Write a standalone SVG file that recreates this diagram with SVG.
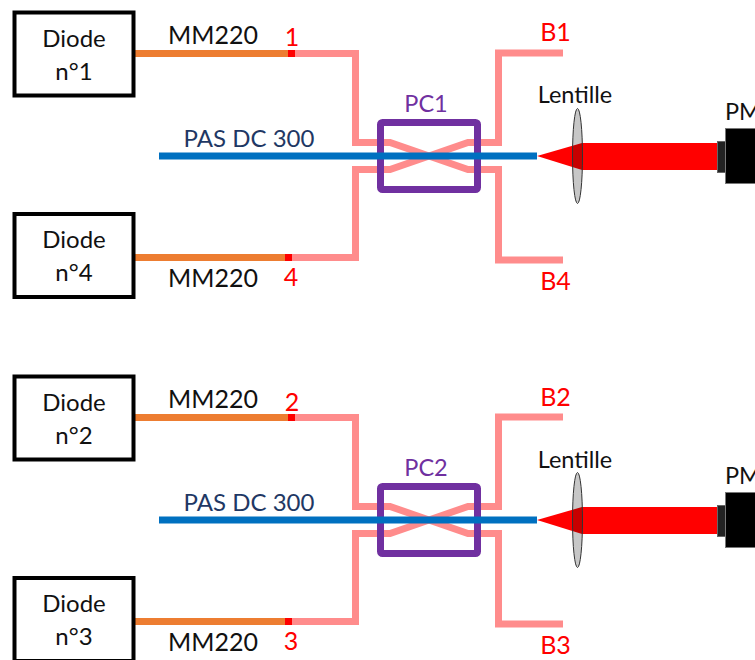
<svg xmlns="http://www.w3.org/2000/svg" width="755" height="660" viewBox="0 0 755 660">
<style>
text{font-family:"Lato","Carlito","Liberation Sans",sans-serif;font-size:23.500px;text-anchor:middle;fill:#111}
.box{fill:#fff;stroke:#000;stroke-width:4}
.or{fill:none;stroke:#ED7D31;stroke-width:7}
.rd{fill:none;stroke:#F00;stroke-width:7}
.pk{fill:none;stroke:#FF8C8C;stroke-width:7}
.bl{fill:none;stroke:#0070C0;stroke-width:7}
.pc{fill:none;stroke:#7030A0;stroke-width:7;stroke-linejoin:round}
text.mm{font-size:25px}
text.dio{font-size:24px}
text.num{fill:#F00;font-size:25px}
text.pct{fill:#7030A0}
text.pas{fill:#1F3864;font-size:24px}
text.pm{text-anchor:start}
</style>
<defs>
<g id="fibres">
<path class="pk" d="M292 53.500H355.500V142.500H390L468 169.500H498.500V260H563"/>
<path class="pk" d="M292 257.500H355.500V169.500H390L468 142.500H498.500V53H563"/>
<path class="or" d="M134 53.500H288"/>
<path class="or" d="M134 257.500H285"/>
<path class="rd" d="M288 53.500H295"/>
<path class="rd" d="M285 257.500H292"/>
</g>
<g id="coupler">
<rect class="pc" x="380.500" y="122.500" width="97" height="67" rx="2"/>
<path class="bl" d="M159 156H537"/>
</g>
<g id="optics">
<path fill="#F00" d="M537 156L582 143H717V170H582Z"/>
<ellipse cx="577.500" cy="156" rx="5" ry="47.500" fill="#000" fill-opacity="0.22" stroke="#333" stroke-width="1"/>
<rect x="717.500" y="141.500" width="8" height="31" fill="#222" stroke="#666" stroke-width="1"/>
<rect x="725.500" y="128.500" width="32" height="55" fill="#000" stroke="#777" stroke-width="1"/>
</g>
</defs>
<g id="connectors">
<use href="#fibres"/>
<use href="#fibres" y="364"/>
</g>
<g id="coupler-pc1"><use href="#coupler"/></g>
<g id="coupler-pc2"><use href="#coupler" y="364"/></g>
<g id="optics-1"><use href="#optics"/></g>
<g id="optics-2"><use href="#optics" y="364"/></g>
<g id="diode1"><rect class="box" x="14.500" y="12.500" width="119" height="83"/><text class="dio" x="74" y="47">Diode</text><text class="dio" x="74" y="80">n°1</text></g>
<g id="diode4"><rect class="box" x="14.500" y="214" width="119" height="83"/><text class="dio" x="74" y="248">Diode</text><text class="dio" x="74" y="281">n°4</text></g>
<g id="diode2"><rect class="box" x="14.500" y="376.500" width="119" height="83"/><text class="dio" x="74" y="411">Diode</text><text class="dio" x="74" y="444">n°2</text></g>
<g id="diode3"><rect class="box" x="14.500" y="578" width="119" height="83"/><text class="dio" x="74" y="612">Diode</text><text class="dio" x="74" y="645">n°3</text></g>
<g id="labels">
<text class="mm" x="213" y="44">MM220</text><text class="mm" x="213" y="287">MM220</text>
<text class="mm" x="213" y="408">MM220</text><text class="mm" x="213" y="651">MM220</text>
<text class="num" x="292" y="46">1</text><text class="num" x="291" y="286">4</text>
<text class="num" x="292" y="411">2</text><text class="num" x="291" y="650">3</text>
<text class="num" x="555.500" y="41">B1</text><text class="num" x="555.500" y="290">B4</text>
<text class="num" x="555.500" y="406">B2</text><text class="num" x="555.500" y="654">B3</text>
<text class="pct" x="426" y="112">PC1</text><text class="pct" x="426" y="476">PC2</text>
<text class="pas" x="249" y="147">PAS DC 300</text><text class="pas" x="249" y="511">PAS DC 300</text>
<text x="575" y="103">Lentille</text><text x="575" y="468">Lentille</text>
<text class="pm" x="725" y="120">PM</text><text class="pm" x="725" y="484">PM</text>
</g>
</svg>
